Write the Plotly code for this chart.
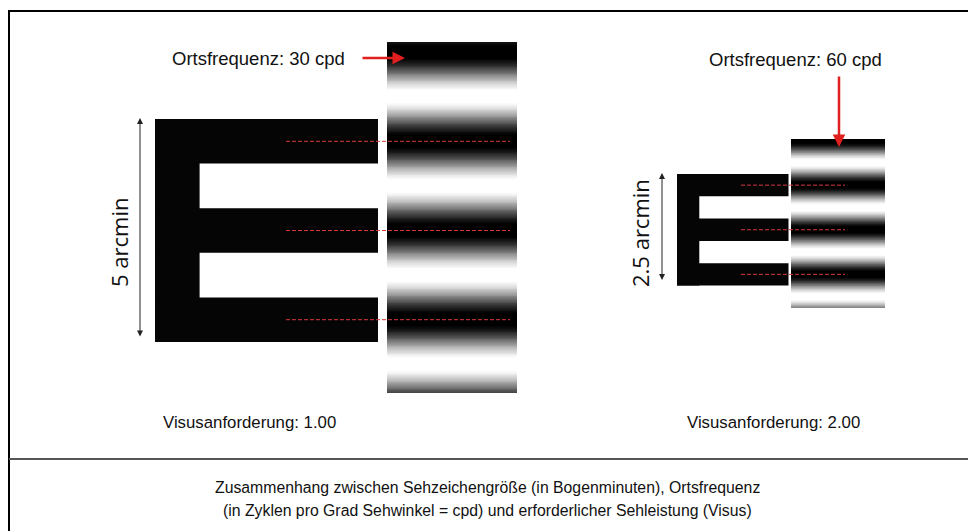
import numpy as np
import plotly.graph_objects as go

# ---- data ----
letter_size_arcmin = [5.0, 2.5]
spatial_freq_cpd = [30, 60]
visus = [1.00, 2.00]
freq_labels = ["Ortsfrequenz: 30 cpd", "Ortsfrequenz: 60 cpd"]
size_labels = ["5 arcmin", "2.5 arcmin"]
visus_labels = ["Visusanforderung: 1.00", "Visusanforderung: 2.00"]
caption = ["Zusammenhang zwischen Sehzeichengröße (in Bogenminuten), Ortsfrequenz",
           "(in Zyklen pro Grad Sehwinkel = cpd) und erforderlicher Sehleistung (Visus)"]

W, H = 976, 531
OFF = 8  # page body margin
PX_PER_ARCMIN = 223 / 5.0

# layout anchors (pixels)
E_left = [155, 677]
E_top = [119, 174]
grat_x = [(387, 517), (791, 885)]
grat_y = [(42, 393), (139, 308)]
dash_x = [(286, 510), (741, 845)]
arrow_x = [140, 662]
label_pos = [(119, 243), (640, 233)]

fig = go.Figure()
shapes = []
annotations = []
SANS = "Liberation Sans, Arial, sans-serif"

for i in range(2):
    S = letter_size_arcmin[i] * PX_PER_ARCMIN
    u = S / 5.0
    x0, y0 = E_left[i], E_top[i]
    period = 2 * u
    gy0, gy1 = grat_y[i]
    ys = np.linspace(gy0, gy1, 401)
    yc = y0 + u / 2
    mids = (ys[:-1] + ys[1:]) / 2
    c = np.cos(2 * np.pi * (mids - yc) / period)
    z = (0.5 - 0.5 * np.clip(1.1 * c, -1, 1)).reshape(-1, 1)
    fig.add_trace(go.Heatmap(
        x=list(grat_x[i]), y=ys, z=z,
        colorscale=[[0, "#000000"], [1, "#ffffff"]], zmin=0, zmax=1,
        showscale=False, hoverinfo="skip"))
    # E letter
    shapes.append(dict(type="rect", x0=x0, x1=x0 + u, y0=y0, y1=y0 + S,
                       fillcolor="#050505", line=dict(width=0)))
    for k in (0, 2, 4):
        shapes.append(dict(type="rect", x0=x0, x1=x0 + S, y0=y0 + k * u, y1=y0 + (k + 1) * u,
                           fillcolor="#050505", line=dict(width=0)))
        shapes.append(dict(type="line", x0=dash_x[i][0], x1=dash_x[i][1],
                           y0=y0 + (k + 0.5) * u, y1=y0 + (k + 0.5) * u,
                           line=dict(color="#d9393b", width=1, dash="4px,2px")))
    # size arrow
    ax_x = arrow_x[i]
    annotations.append(dict(x=ax_x, y=y0 - 1, ax=ax_x, ay=y0 + S - 4, xref="x", yref="y",
                            axref="x", ayref="y", showarrow=True, arrowhead=2,
                            arrowside="end+start", arrowsize=1.2, arrowwidth=1,
                            arrowcolor="#222", text=""))
    annotations.append(dict(x=label_pos[i][0], y=label_pos[i][1], xref="x", yref="y",
                            text=size_labels[i], textangle=-90, showarrow=False,
                            font=dict(family="Open Sans", size=22, color="#111")))

# frequency labels + red arrows
annotations.append(dict(x=258, y=58, xref="x", yref="y", text=freq_labels[0], showarrow=False,
                        font=dict(family=SANS, size=18.5, color="#111")))
annotations.append(dict(x=405, y=58, ax=361, ay=58, xref="x", yref="y", axref="x", ayref="y",
                        showarrow=True, arrowhead=2, arrowsize=1, arrowwidth=2.5,
                        arrowcolor="#e0201e", text=""))
annotations.append(dict(x=795, y=59, xref="x", yref="y", text=freq_labels[1], showarrow=False,
                        font=dict(family=SANS, size=18.5, color="#111")))
annotations.append(dict(x=839, y=147, ax=839, ay=75, xref="x", yref="y", axref="x", ayref="y",
                        showarrow=True, arrowhead=2, arrowsize=1, arrowwidth=2.5,
                        arrowcolor="#e0201e", text=""))

# visus labels
for xc, t in zip([249, 773], visus_labels):
    annotations.append(dict(x=xc, y=422, xref="x", yref="y", text=t, showarrow=False,
                            font=dict(family=SANS, size=16.8, color="#111")))

# caption
for yy, t in zip([487, 510], caption):
    annotations.append(dict(x=487, y=yy, xref="x", yref="y", text=t, showarrow=False,
                            font=dict(family=SANS, size=15.8, color="#111")))

# frame and divider
shapes.append(dict(type="rect", x0=9, x1=975, y0=11, y1=560, line=dict(color="#000", width=2),
                   fillcolor="rgba(0,0,0,0)"))
shapes.append(dict(type="line", x0=9, x1=975, y0=459, y1=459, line=dict(color="#555", width=2)))

fig.update_layout(
    width=W - OFF, height=H - OFF, margin=dict(l=0, r=0, t=0, b=0),
    plot_bgcolor="white", paper_bgcolor="white",
    xaxis=dict(range=[OFF, W], visible=False, fixedrange=True),
    yaxis=dict(range=[H, OFF], visible=False, fixedrange=True),
    shapes=shapes, annotations=annotations, showlegend=False,
)
fig.write_html("out.html")
